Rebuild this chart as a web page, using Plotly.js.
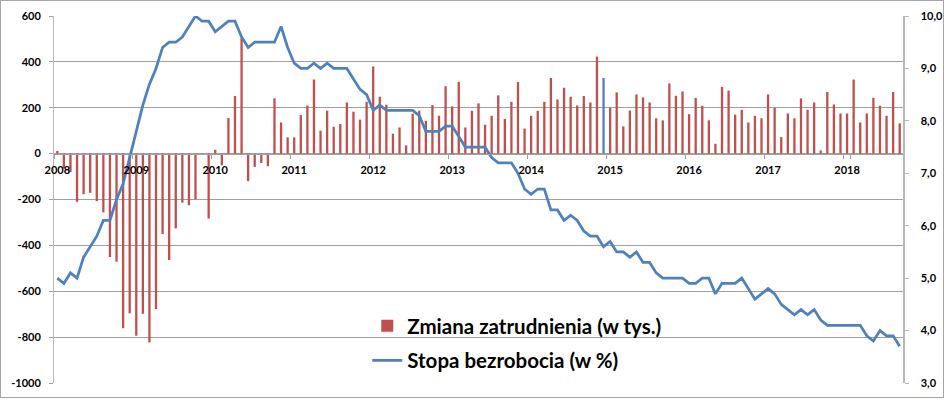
<!DOCTYPE html>
<html>
<head>
<meta charset="utf-8">
<script src="https://cdn.plot.ly/plotly-3.0.1.min.js"></script>
<style>
  html, body { margin: 0; padding: 0; background: #ffffff; }
  #chart { position: absolute; left: 0; top: 0; width: 945px; height: 405px; }
  #frame {
    position: absolute; left: 0; top: 0;
    width: 942px; height: 396px;
    border: 1px solid #a6a6a6;
    pointer-events: none;
  }
</style>
</head>
<body>
<div id="chart"></div>
<div id="frame"></div>
<script>
// Monthly series, Jan 2008 - Sep 2018.
const START_YEAR = 2008;
const YEAR_LABELS = ["2008", "2009", "2010", "2011", "2012", "2013", "2014", "2015", "2016", "2017", "2018"];

// Zmiana zatrudnienia (w tys.)
const payrollChange = [
  12, -65, -80, -210, -177, -171, -207, -256, -451, -471, -761, -696,    // 2008
  -794, -698, -823, -678, -351, -464, -326, -214, -225, -199, -6, -283,  // 2009
  17, -51, 155, 251, 505, -120, -58, -41, -55, 241, 136, 71,             // 2010
  71, 168, 210, 323, 100, 187, 117, 129, 223, 183, 148, 226,             // 2011
  380, 248, 213, 87, 114, 36, 174, 187, 143, 212, 165, 294,              // 2012
  206, 313, 114, 187, 219, 126, 165, 254, 151, 226, 312, 109,            // 2013
  165, 187, 226, 330, 236, 287, 248, 210, 251, 223, 423, 330,            // 2014
  200, 267, 119, 188, 258, 245, 223, 154, 145, 306, 252, 271,            // 2015
  172, 243, 209, 145, 43, 291, 275, 170, 191, 136, 165, 154,             // 2016
  258, 200, 72, 175, 154, 241, 191, 223, 14, 269, 214, 175,              // 2017
  175, 323, 136, 175, 243, 209, 165, 269, 132,                           // 2018
];

// Stopa bezrobocia (w %)
const unemploymentRate = [
  5.0, 4.9, 5.1, 5.0, 5.4, 5.6, 5.8, 6.1, 6.1, 6.5, 6.8, 7.3,
  7.8, 8.3, 8.7, 9.0, 9.4, 9.5, 9.5, 9.6, 9.8, 10.0, 9.9, 9.9,
  9.7, 9.8, 9.9, 9.9, 9.6, 9.4, 9.5, 9.5, 9.5, 9.5, 9.8, 9.4,
  9.1, 9.0, 9.0, 9.1, 9.0, 9.1, 9.0, 9.0, 9.0, 8.8, 8.6, 8.5,
  8.2, 8.3, 8.2, 8.2, 8.2, 8.2, 8.2, 8.1, 7.8, 7.8, 7.8, 7.9,
  7.9, 7.7, 7.5, 7.5, 7.5, 7.5, 7.3, 7.2, 7.2, 7.2, 7.0, 6.7,
  6.6, 6.7, 6.7, 6.3, 6.3, 6.1, 6.2, 6.1, 5.9, 5.8, 5.8, 5.6,
  5.7, 5.5, 5.5, 5.4, 5.5, 5.3, 5.3, 5.1, 5.0, 5.0, 5.0, 5.0,
  4.9, 4.9, 5.0, 5.0, 4.7, 4.9, 4.9, 4.9, 5.0, 4.8, 4.6, 4.7,
  4.8, 4.7, 4.5, 4.4, 4.3, 4.4, 4.3, 4.4, 4.2, 4.1, 4.1, 4.1,
  4.1, 4.1, 4.1, 3.9, 3.8, 4.0, 3.9, 3.9, 3.7,
];

const LEFT_TICKS = [-1000, -800, -600, -400, -200, 0, 200, 400, 600];
const LEFT_TICK_TEXT = ["-1000", "-800", "-600", "-400", "-200", "0", "200", "400", "600"];

// The one bar the source chart paints in the line colour.
const HIGHLIGHT_MONTH = "2014-12";

const RED = "#c0504d";
const BLUE = "#4f81bd";
const GRID = "#a0a0a0";
const AXIS = "#b8b8b8";
const FONT = "Lato, 'Open Sans', sans-serif";

const months = payrollChange.map((_, i) => {
  const y = START_YEAR + Math.floor(i / 12);
  const m = (i % 12) + 1;
  return y + "-" + String(m).padStart(2, "0");
});

const tickFont = { family: FONT, size: 11, color: "#000000", weight: "bold" };

const data = [
  {
    type: "bar",
    name: "Zmiana zatrudnienia (w tys.)",
    legendgroup: "a",
    x: months,
    y: payrollChange,
    marker: { color: months.map((m) => (m === HIGHLIGHT_MONTH ? BLUE : RED)) },
    hoverinfo: "x+y",
  },
  {
    type: "scatter",
    mode: "lines",
    name: "Stopa bezrobocia (w %)",
    legendgroup: "b",
    x: months,
    y: unemploymentRate,
    yaxis: "y2",
    line: { color: BLUE, width: 2.75 },
    hoverinfo: "x+y",
  },
];

const layout = {
  width: 945,
  height: 405,
  margin: { l: 54, r: 42, t: 16, b: 22 },
  paper_bgcolor: "#ffffff",
  plot_bgcolor: "#ffffff",
  font: { family: FONT, color: "#000000" },
  separators: ", ",
  bargap: 0.65,
  showlegend: true,
  legend: {
    x: 0.369, y: 0.21, xanchor: "left", yanchor: "top",
    bgcolor: "rgba(0,0,0,0)",
    font: { family: FONT, size: 20.5, color: "#000000", weight: "bold" },
    traceorder: "grouped",
    tracegroupgap: 5,
  },
  xaxis: {
    type: "category",
    categoryorder: "array",
    categoryarray: months,
    anchor: "free",
    position: 1000 / 1600,
    showgrid: false,
    showline: true,
    linecolor: GRID,
    linewidth: 1,
    ticks: "outside",
    tickson: "boundaries",
    ticklen: 4,
    tickcolor: GRID,
    tickvals: YEAR_LABELS.map((y) => y + "-01"),
    ticktext: YEAR_LABELS,
    ticklabelstandoff: 6,
    tickfont: tickFont,
    tickangle: 0,
  },
  yaxis: {
    range: [-1000, 600],
    tickvals: LEFT_TICKS,
    ticktext: LEFT_TICK_TEXT,
    showgrid: true,
    gridcolor: GRID,
    gridwidth: 1,
    zeroline: false,
    showline: true,
    linecolor: AXIS,
    ticks: "outside",
    ticklen: 4,
    tickcolor: GRID,
    ticklabelstandoff: 6,
    tickfont: tickFont,
  },
  yaxis2: {
    overlaying: "y",
    side: "right",
    range: [3, 10],
    dtick: 1,
    tick0: 3,
    tickformat: ".1f",
    showgrid: false,
    zeroline: false,
    showline: true,
    linecolor: AXIS,
    linewidth: 1.5,
    ticks: "outside",
    ticklen: 4,
    tickcolor: AXIS,
    ticklabelstandoff: 10,
    tickfont: tickFont,
  },
};

Plotly.newPlot("chart", data, layout, { displayModeBar: false, staticPlot: true });
</script>
</body>
</html>
